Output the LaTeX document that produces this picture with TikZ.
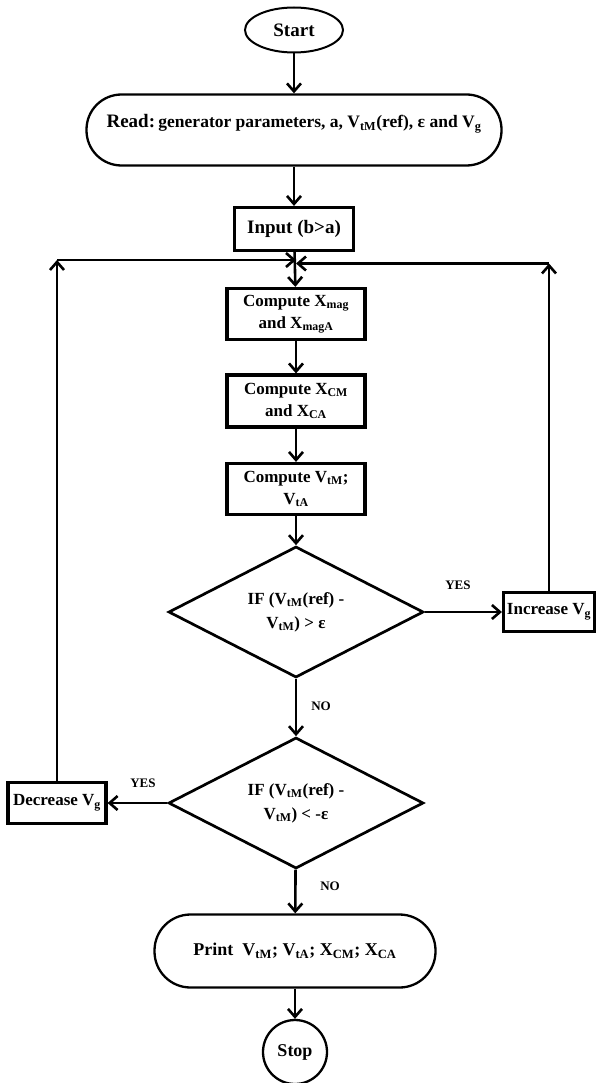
\documentclass[tikz,border=0pt]{standalone}
\usepackage{fontspec}
\setmainfont{Liberation Serif}
\usetikzlibrary{shapes.geometric,arrows.meta}

\begin{document}
\begin{tikzpicture}[x=1pt,y=1pt,yscale=-1,xscale=1,
  >={Straight Barb[length=8pt,width=14pt]},
  flow/.style={->,line width=2.6pt},
  box/.style={draw,rectangle,line width=3.2pt,align=center,inner sep=2pt,font=\fontsize{17}{22}\selectfont\bfseries},
  term/.style={draw,rectangle,rounded corners=#1,line width=2.3pt,align=center},
  cond/.style={draw,diamond,aspect=1.9,line width=2.7pt,inner sep=0pt,minimum width=255pt,minimum height=131pt,align=center,font=\fontsize{17}{24}\selectfont\bfseries},
  lbl/.style={font=\fontsize{13}{15}\selectfont\bfseries}]
\useasboundingbox (0,0) rectangle (596,1083);
% Terminals
\node[draw,ellipse,line width=2pt,minimum width=98pt,minimum height=45pt,font=\fontsize{19}{22}\selectfont\bfseries] (start) at (294,30) {Start};
\node[term=35pt,minimum width=415pt,minimum height=71pt,text depth=18pt,font=\bfseries] (read) at (294,130) {{\fontsize{19}{22}\selectfont Read:} {\fontsize{17.5}{20}\selectfont generator parameters, a, V\textsubscript{tM}(ref), ε and V\textsubscript{g}}};
% Process boxes
\node[box,minimum width=119pt,minimum height=43pt,font=\fontsize{19}{22}\selectfont\bfseries] (input) at (294,229) {Input (b>a)};
\node[box,minimum width=138pt,minimum height=51pt] (cmag) at (296,314) {Compute X\textsubscript{mag}\\and X\textsubscript{magA}};
\node[box,minimum width=138pt,minimum height=52pt] (cc) at (296,401) {Compute X\textsubscript{CM}\\and X\textsubscript{CA}};
\node[box,minimum width=138pt,minimum height=51pt] (cv) at (296,489) {Compute V\textsubscript{tM};\\V\textsubscript{tA}};
% Decisions
\node[cond] (ifup) at (296,612) {IF (V\textsubscript{tM}(ref) -\\V\textsubscript{tM}) > ε};
\node[cond] (ifdown) at (296,803) {IF (V\textsubscript{tM}(ref) -\\V\textsubscript{tM}) < -ε};
\node[box,minimum width=91pt,minimum height=39pt] (inc) at (549,612) {Increase V\textsubscript{g}};
\node[box,minimum width=98pt,minimum height=41pt] (dec) at (57,803) {Decrease V\textsubscript{g}};
% Output
\node[term=36pt,minimum width=281pt,minimum height=73pt,font=\fontsize{18}{22}\selectfont\bfseries] (print) at (295,951) {Print~~V\textsubscript{tM}; V\textsubscript{tA}; X\textsubscript{CM}; X\textsubscript{CA}};
\node[draw,circle,line width=2.3pt,minimum size=64pt,inner sep=0pt,font=\fontsize{18}{22}\selectfont\bfseries] (stop) at (295,1052) {Stop};
% Loop points
\coordinate (mergel) at (296,260);
\coordinate (merger) at (296,263.5);
% Connectors
\draw[flow] (start) -- (read);
\draw[flow] (read) -- (input);
\draw[flow] (input) -- (cmag);
\draw[flow] (cmag) -- (cc);
\draw[flow] (cc) -- (cv);
\draw[flow] (cv) -- (ifup);
\draw[flow] (ifup) -- (ifdown);
\draw[flow] (ifdown) -- (print);
\draw[flow] (print) -- (stop);
\draw[flow] (ifup) -- (inc);
\draw[flow] (ifdown) -- (dec);
\draw[flow] (inc.north) -- (inc.north |- merger);
\draw[flow] (inc.north |- merger) -- (merger);
\draw[flow] (dec.north) -- (dec.north |- mergel);
\draw[flow] (dec.north |- mergel) -- (mergel);
% Labels
\node[lbl] (yesup) at (458,585) {YES};
\node[lbl] (noup) at (321,706) {NO};
\node[lbl] (yesdown) at (143,783) {YES};
\node[lbl] (nodown) at (330,886) {NO};
\end{tikzpicture}
\end{document}
